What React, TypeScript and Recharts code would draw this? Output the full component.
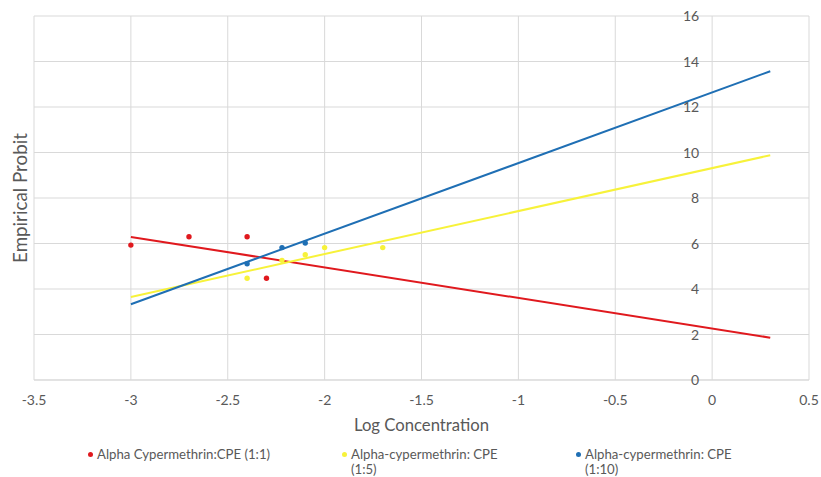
import React from 'react';
import { ComposedChart, Scatter, Line, XAxis, YAxis, CartesianGrid, Legend } from 'recharts';

// axis ticks
const xTicks = [-3.5, -3, -2.5, -2, -1.5, -1, -0.5, 0, 0.5];
const yTicks = [0, 2, 4, 6, 8, 10, 12, 14, 16];

// observed points (log concentration vs empirical probit)
const ratio11Points = [
  { x: -3, y: 5.93 },
  { x: -2.7, y: 6.3 },
  { x: -2.4, y: 6.3 },
  { x: -2.3, y: 4.47 },
];
const ratio15Points = [
  { x: -2.4, y: 4.47 },
  { x: -2.22, y: 5.26 },
  { x: -2.1, y: 5.51 },
  { x: -2, y: 5.82 },
  { x: -1.7, y: 5.82 },
];
const ratio110Points = [
  { x: -2.4, y: 5.11 },
  { x: -2.22, y: 5.82 },
  { x: -2.1, y: 6.02 },
];

// linear trend lines, start and end
const ratio11Trend = [{ x: -3, y: 6.29 }, { x: 0.3, y: 1.86 }];
const ratio15Trend = [{ x: -3, y: 3.65 }, { x: 0.3, y: 9.88 }];
const ratio110Trend = [{ x: -3, y: 3.33 }, { x: 0.3, y: 13.57 }];

const series = [
  { name: 'Alpha Cypermethrin:CPE (1:1)', color: '#E0191E', points: ratio11Points, trend: ratio11Trend },
  { name: 'Alpha-cypermethrin: CPE (1:5)', color: '#F7F23A', points: ratio15Points, trend: ratio15Trend },
  { name: 'Alpha-cypermethrin: CPE (1:10)', color: '#1F6FB4', points: ratio110Points, trend: ratio110Trend },
];

// legend layout (Excel wraps the 2nd and 3rd entries)
const legendWidths = [254, 234, 180];
const legendWrap = [false, true, true];

const W = 821;
const H = 477;
const X_MIN = -3.5;
const X_MAX = 0.5;
const MARGIN = { top: 16, right: 12, left: 0, bottom: 2 };
const Y_AXIS_W = 34;
const PLOT_W = W - MARGIN.left - MARGIN.right - Y_AXIS_W;
// Excel puts the vertical axis where x = 0
const zeroX = MARGIN.left + Y_AXIS_W + (PLOT_W * (0 - X_MIN)) / (X_MAX - X_MIN);

const TEXT = '#595959';
const GRID = '#D9D9D9';
const FONT = 'Lato, "Open Sans", sans-serif';

const YTick = (props: any) => {
  const { y, payload } = props;
  return (
    <text x={zeroX - 13} y={y} dy={5} textAnchor="end" fill={TEXT} fontSize={14}>
      {payload.value}
    </text>
  );
};

const LegendContent = () => (
  <div
    style={{
      display: 'flex',
      height: 40,
      boxSizing: 'border-box',
      paddingLeft: 88,
      paddingTop: 12,
      fontSize: 13.2,
      lineHeight: '15px',
      color: TEXT,
      fontFamily: FONT,
    }}
  >
    {series.map((s, i) => (
      <div key={s.name} style={{ width: legendWidths[i], display: 'flex', alignItems: 'flex-start' }}>
        <span
          style={{
            width: 5,
            height: 5,
            borderRadius: '50%',
            background: s.color,
            marginTop: 5,
            marginRight: 4,
            flexShrink: 0,
          }}
        />
        <span style={legendWrap[i] ? { maxWidth: 168 } : { whiteSpace: 'nowrap' }}>{s.name}</span>
      </div>
    ))}
  </div>
);

export default function App() {
  return (
    <div style={{ position: 'absolute', left: 0, top: 0, width: W, height: H, background: '#fff', fontFamily: FONT }}>
      <ComposedChart width={W} height={H} margin={MARGIN}>
        <CartesianGrid stroke={GRID} />
        <XAxis
          type="number"
          dataKey="x"
          domain={[X_MIN, X_MAX]}
          ticks={xTicks}
          allowDataOverflow
          height={55}
          tickLine={false}
          tickMargin={9}
          axisLine={{ stroke: GRID }}
          tick={{ fill: TEXT, fontSize: 14 }}
          label={{ value: 'Log Concentration', position: 'insideBottom', offset: 4, fill: TEXT, fontSize: 16.7 }}
        />
        <YAxis
          type="number"
          dataKey="y"
          domain={[0, 16]}
          ticks={yTicks}
          width={Y_AXIS_W}
          axisLine={false}
          tickLine={false}
          tick={<YTick />}
          label={{ value: 'Empirical Probit', angle: -90, position: 'center', dx: 3, fill: TEXT, fontSize: 18.8 }}
        />
        {series.map((s) => (
          <Line
            key={`${s.name}-trend`}
            data={s.trend}
            dataKey="y"
            type="linear"
            stroke={s.color}
            strokeWidth={2}
            dot={false}
            activeDot={false}
            legendType="none"
            isAnimationActive={false}
          />
        ))}
        {series.map((s) => (
          <Scatter
            key={`${s.name}-pts`}
            name={s.name}
            data={s.points}
            dataKey="y"
            fill={s.color}
            isAnimationActive={false}
            shape={(p: any) => <circle cx={p.cx} cy={p.cy} r={2.7} fill={s.color} />}
          />
        ))}
        <Legend verticalAlign="bottom" align="left" wrapperStyle={{ left: 0, width: W }} content={<LegendContent />} />
      </ComposedChart>
    </div>
  );
}
